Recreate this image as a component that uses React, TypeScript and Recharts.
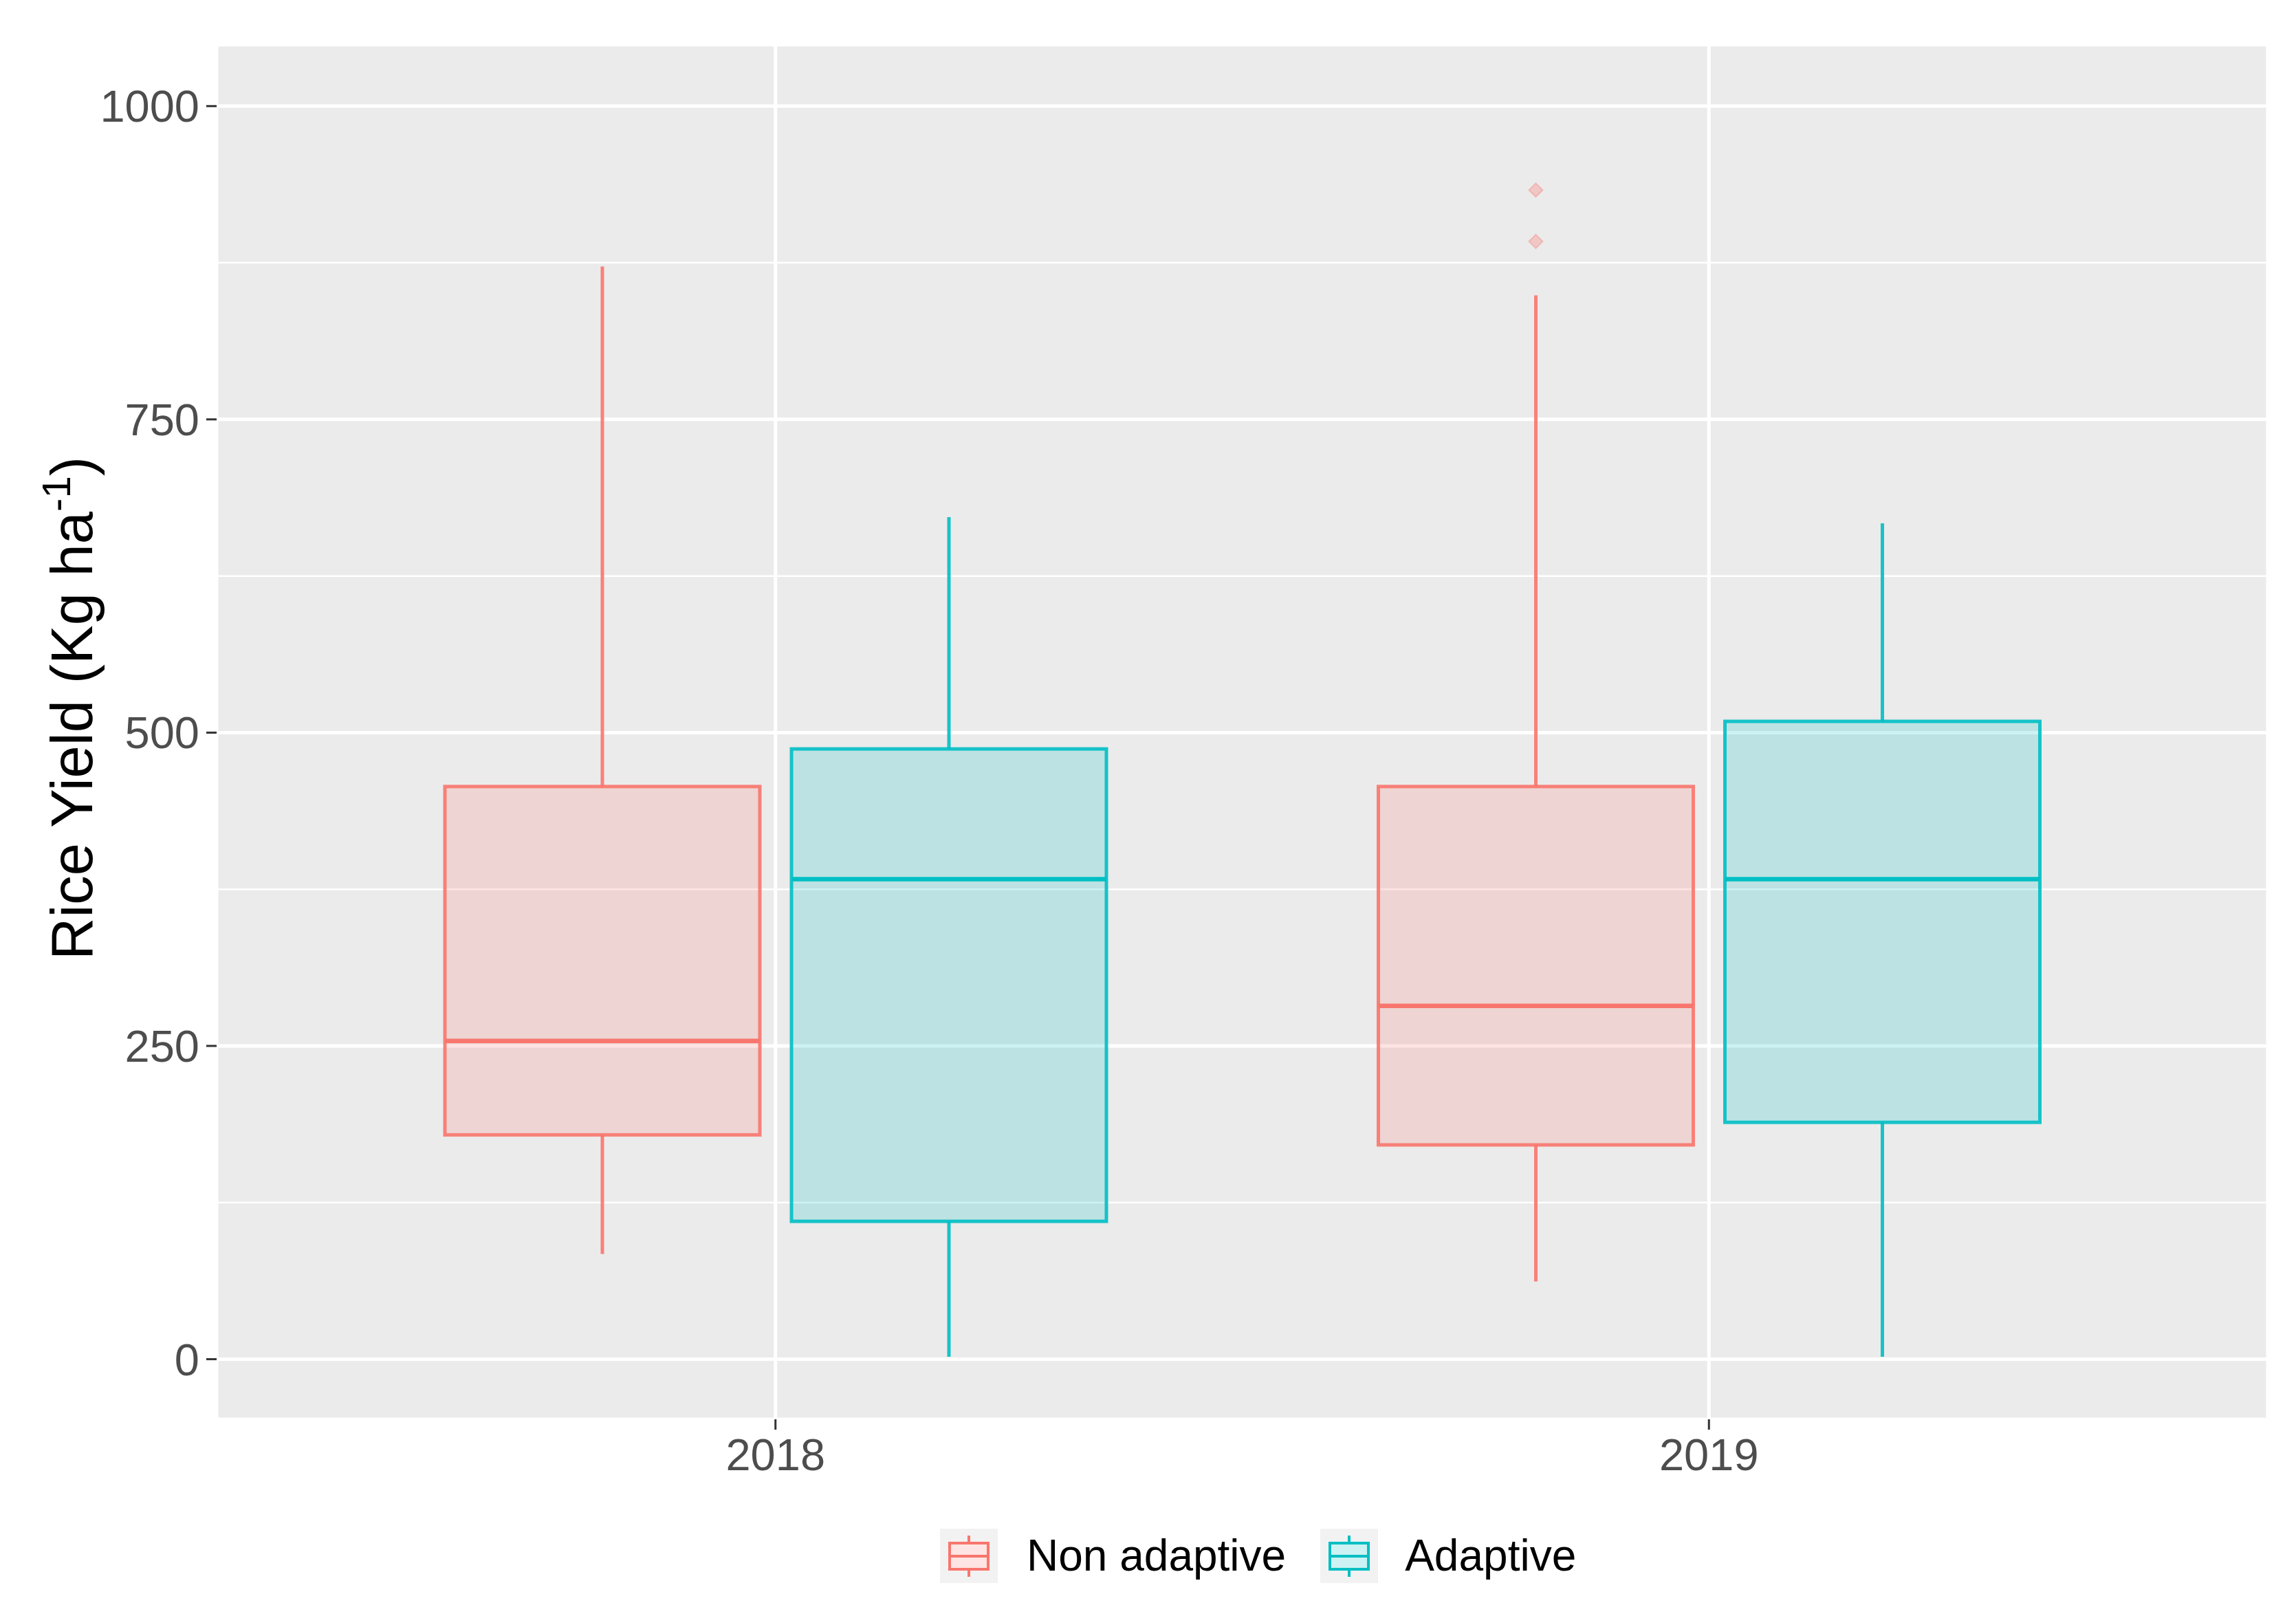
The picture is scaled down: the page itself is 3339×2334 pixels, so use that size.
import { ComposedChart, Bar, XAxis, YAxis, CartesianGrid, Legend, ReferenceLine } from "recharts";

const FONT = "'Liberation Sans', Arial, sans-serif";
const RED = "#F8766D";
const TEAL = "#00BFC4";

// categories
const years = ["2018", "2019"];

// Non adaptive box stats (Kg/ha)
const nonAdaptiveMin = [84, 62];
const nonAdaptiveQ1 = [179, 171];
const nonAdaptiveMedian = [254, 282];
const nonAdaptiveQ3 = [457, 457];
const nonAdaptiveMax = [872, 849];
const nonAdaptiveOutliers = [[], [892, 933]];

// Adaptive box stats (Kg/ha)
const adaptiveMin = [2, 2];
const adaptiveQ1 = [110, 189];
const adaptiveMedian = [383, 383];
const adaptiveQ3 = [487, 509];
const adaptiveMax = [672, 667];
const adaptiveOutliers = [[], []];

const yTicks = [0, 250, 500, 750, 1000];
const yMinorTicks = [125, 375, 625, 875];
const yDomain = [-48, 1049];

const rows = years.map((year, i) => ({
  year,
  nonAdaptive: [nonAdaptiveQ1[i], nonAdaptiveQ3[i]],
  adaptive: [adaptiveQ1[i], adaptiveQ3[i]],
  naStats: {
    min: nonAdaptiveMin[i], q1: nonAdaptiveQ1[i], median: nonAdaptiveMedian[i],
    q3: nonAdaptiveQ3[i], max: nonAdaptiveMax[i], outliers: nonAdaptiveOutliers[i],
  },
  adStats: {
    min: adaptiveMin[i], q1: adaptiveQ1[i], median: adaptiveMedian[i],
    q3: adaptiveQ3[i], max: adaptiveMax[i], outliers: adaptiveOutliers[i],
  },
}));

// box shape: the bar spans q1..q3, so its pixel height gives the y scale for the other stats
function makeBoxShape(color: string, statsKey: "naStats" | "adStats") {
  return (props: any) => {
    const { x, y, width, height, payload } = props;
    const s = payload[statsKey];
    const k = height / (s.q3 - s.q1);
    const toY = (v: number) => y + (s.q3 - v) * k;
    const cx = x + width / 2;
    return (
      <g>
        <line x1={cx} x2={cx} y1={toY(s.max)} y2={y} stroke={color} strokeWidth={5} strokeOpacity={0.9} />
        <line x1={cx} x2={cx} y1={y + height} y2={toY(s.min)} stroke={color} strokeWidth={5} strokeOpacity={0.9} />
        <rect x={x} y={y} width={width} height={height} fill={color} fillOpacity={0.2} stroke={color} strokeWidth={5} strokeOpacity={0.9} />
        <line x1={x} x2={x + width} y1={toY(s.median)} y2={toY(s.median)} stroke={color} strokeWidth={6.5} />
        {s.outliers.map((v: number, j: number) => {
          const oy = toY(v);
          return (
            <path
              key={j}
              d={`M${cx},${oy - 10} L${cx + 10},${oy} L${cx},${oy + 10} L${cx - 10},${oy} Z`}
              fill={color}
              fillOpacity={0.3}
              stroke={color}
              strokeOpacity={0.35}
              strokeWidth={2}
            />
          );
        })}
      </g>
    );
  };
}

function YTitle() {
  return (
    <text transform="translate(134,1030) rotate(-90)" textAnchor="middle" fontFamily={FONT} fontSize={85} fill="#000">
      Rice Yield (Kg ha
      <tspan dy={-32} fontSize={58}>-1</tspan>
      <tspan dy={32}>)</tspan>
    </text>
  );
}

function KeyGlyph({ color }: { color: string }) {
  return (
    <svg width={84} height={79}>
      <rect x={0} y={0} width={84} height={79} fill="#F2F2F2" />
      <line x1={42} x2={42} y1={10} y2={70} stroke={color} strokeWidth={4} />
      <rect x={14} y={21} width={56} height={38} fill="#fff" stroke={color} strokeWidth={4} />
      <rect x={14} y={21} width={56} height={38} fill={color} fillOpacity={0.2} />
      <line x1={14} x2={70} y1={40} y2={40} stroke={color} strokeWidth={4} />
    </svg>
  );
}

function LegendContent() {
  return (
    <div
      style={{
        height: 170,
        boxSizing: "border-box",
        paddingTop: 26,
        paddingLeft: 1367,
        display: "flex",
        alignItems: "center",
        fontFamily: FONT,
        fontSize: 64,
        color: "#000",
      }}
    >
      <KeyGlyph color={RED} />
      <span style={{ marginLeft: 42 }}>Non adaptive</span>
      <span style={{ marginLeft: 50, display: "flex" }}>
        <KeyGlyph color={TEAL} />
      </span>
      <span style={{ marginLeft: 39 }}>Adaptive</span>
    </div>
  );
}

export default function App() {
  return (
    <div style={{ position: "absolute", left: 0, top: 0, background: "#fff" }}>
      <ComposedChart
        width={3339}
        height={2334}
        data={rows}
        margin={{ top: 65, right: 41, left: 0, bottom: 0 }}
        barSize={458}
        barGap={46}
      >
        <CartesianGrid fill="#EBEBEB" stroke="#FFFFFF" strokeWidth={5} />
        {yMinorTicks.map((v) => (
          <ReferenceLine key={v} y={v} stroke="#FFFFFF" strokeWidth={2.5} zIndex={-50} />
        ))}
        <XAxis
          dataKey="year"
          type="category"
          height={100}
          padding={{ left: 134, right: 134 }}
          axisLine={false}
          tickSize={15}
          tickMargin={13}
          tickLine={{ stroke: "#333333", strokeWidth: 3 }}
          tick={{ fontSize: 65, fill: "#4D4D4D", fontFamily: FONT }}
        />
        <YAxis
          type="number"
          domain={yDomain}
          ticks={yTicks}
          width={315}
          axisLine={false}
          tickSize={15}
          tickMargin={10}
          tickLine={{ stroke: "#333333", strokeWidth: 3 }}
          tick={{ fontSize: 65, fill: "#4D4D4D", fontFamily: FONT }}
          label={<YTitle />}
        />
        <Bar dataKey="nonAdaptive" name="Non adaptive" fill={RED} shape={makeBoxShape(RED, "naStats")} isAnimationActive={false} />
        <Bar dataKey="adaptive" name="Adaptive" fill={TEAL} shape={makeBoxShape(TEAL, "adStats")} isAnimationActive={false} />
        <Legend
          verticalAlign="bottom"
          content={<LegendContent />}
          wrapperStyle={{ left: 0, width: 3339, height: 170 }}
        />
      </ComposedChart>
    </div>
  );
}
